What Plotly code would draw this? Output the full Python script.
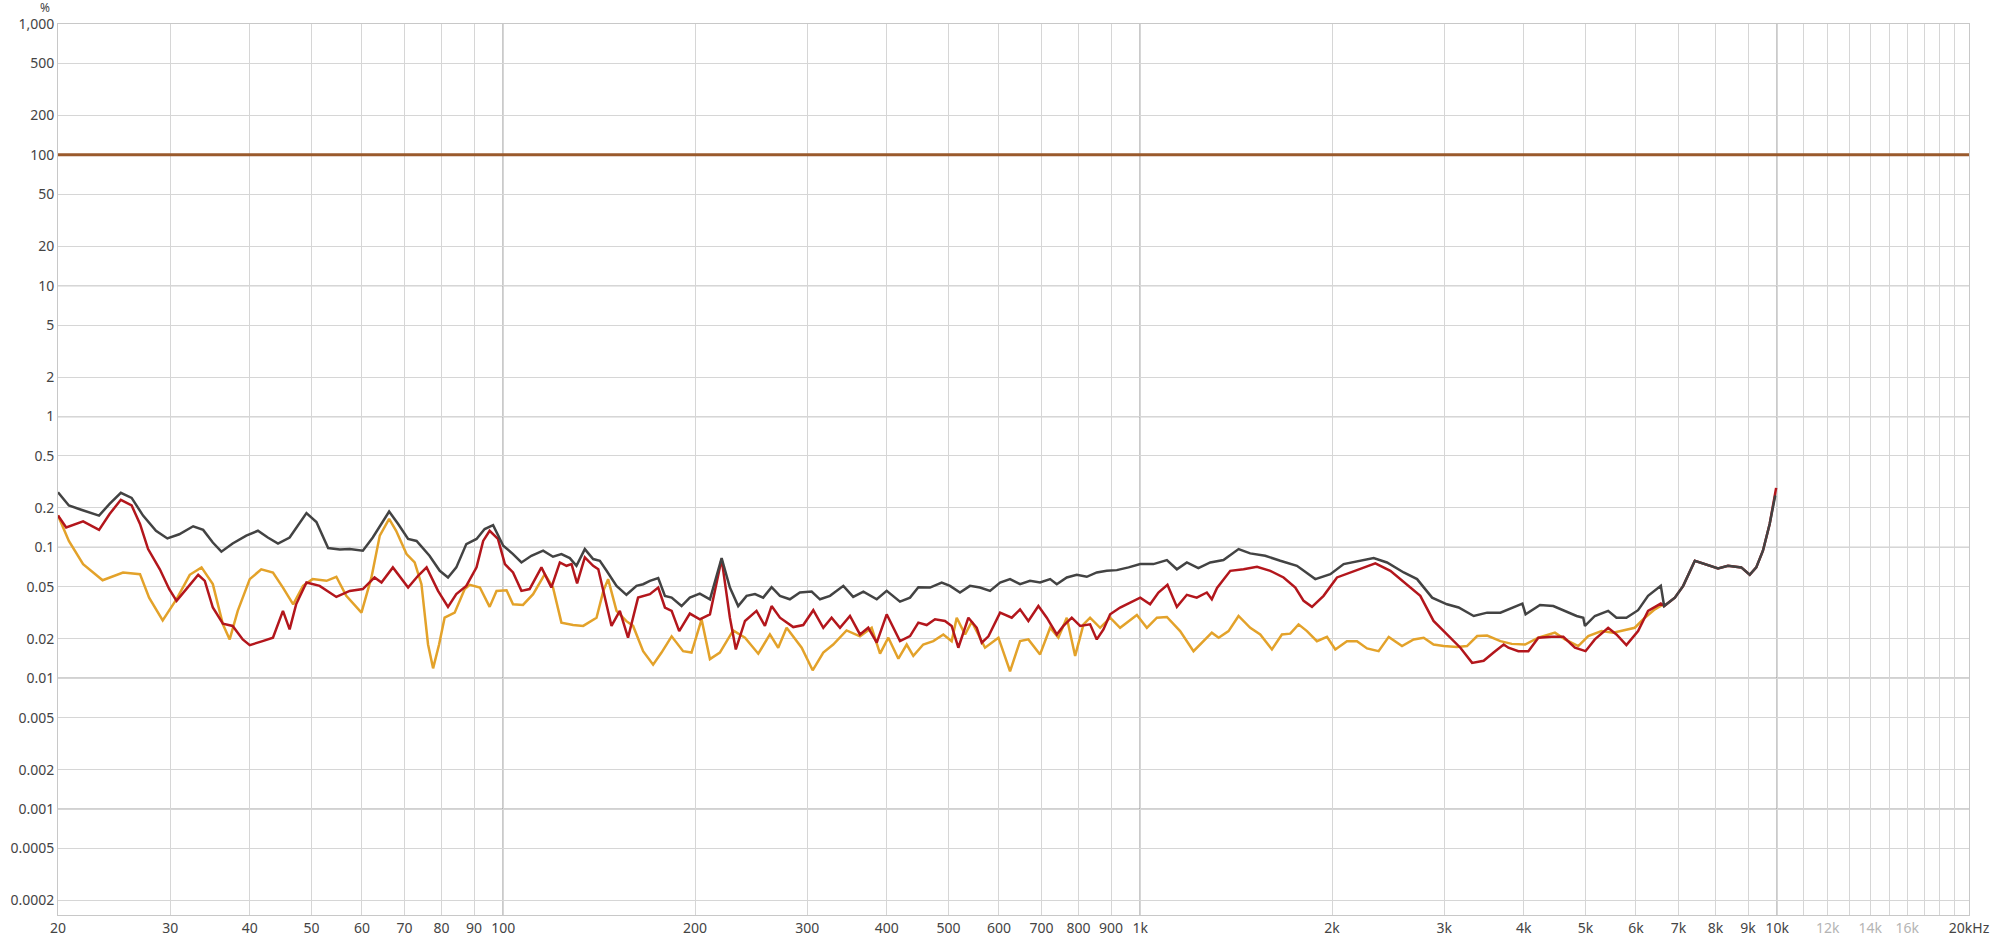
import math
import plotly.graph_objects as go

# ---------------- data (frequency in Hz, distortion in %) ----------------
fund_freq = [20, 20000]
fund_val = [100, 100]

thd_freq = [20, 20.8, 21.75, 23.2, 24.1, 25.1, 26.1, 27.2, 28.5, 29.7, 31.0, 32.6, 33.8, 35.0, 36.1, 37.6,
            39.5, 41.2, 42.7, 44.3, 46.2, 49.1, 50.9, 53.1, 55.4,
            57.4, 60.2, 62.4, 66.2, 68.4, 70.9, 73.1, 76.6, 79.5, 81.9, 84.4, 87.5, 90.8, 93.5, 96.4, 100,
            103.6, 106.8, 110.7, 115.5, 119.7, 123.4, 127.2, 130.3, 134.3, 138.4, 141.8, 145.3, 150.6, 156.1,
            161.9, 165.8, 169.9, 175.1, 179.4, 183.8, 190.5, 196.3, 203.5, 211.1, 220.2, 226.9, 233.8, 241.0,
            248.4, 255.9, 263.8, 271.9, 281.8, 292.2, 304.9, 314.2, 325.8, 341.9, 354.3, 367.6, 385.8, 399.9,
            419.6, 435.1, 448.4,
            467.7, 487.9, 502.8, 521.2, 540.4, 560.3, 581.0, 602.5, 624.6, 647.6, 671.4, 696.2, 722.0, 739.6,
            766.8, 795.0, 824.3, 854.6, 886.1, 918.7, 958.7, 1000, 1048.9, 1101.1, 1141.6, 1183.5, 1233.8, 1287.8,
            1351, 1427, 1488, 1571, 1659, 1762, 1883, 1988, 2086, 2216, 2325, 2440, 2592, 2720, 2872, 3031,
            3161, 3338, 3504, 3676,
            3830, 3980, 4027, 4242, 4451, 4643, 4842, 4960, 4990, 5172, 5427, 5592, 5797, 6047, 6269, 6565,
            6644, 6907, 7118, 7424, 7694, 8074, 8370, 8781, 9053, 9270, 9496, 9730, 9928]
thd_val = [0.264, 0.209, 0.194, 0.175, 0.215, 0.261, 0.239, 0.175, 0.134, 0.117, 0.126, 0.145, 0.136, 0.109, 0.0927, 0.107,
           0.123, 0.134, 0.119, 0.107, 0.119, 0.183, 0.156, 0.0988, 0.0965,
           0.097, 0.0943, 0.119, 0.188, 0.151, 0.116, 0.112, 0.0863, 0.0662, 0.0589, 0.0703, 0.106, 0.116, 0.138, 0.148, 0.103,
           0.0889, 0.0767, 0.0863, 0.0943, 0.0848, 0.0889, 0.0828, 0.0723, 0.097, 0.0814, 0.079, 0.0662, 0.0508, 0.0434,
           0.0508, 0.0523, 0.0555, 0.0582, 0.0426, 0.0413, 0.0356, 0.0413, 0.0443, 0.0401, 0.0828, 0.0493, 0.0356, 0.0426,
           0.0439, 0.0413, 0.0496, 0.0426, 0.0401, 0.0452, 0.0459, 0.0401, 0.0426, 0.0508, 0.0418, 0.0459, 0.0401, 0.0465,
           0.0385, 0.0413, 0.0496,
           0.0493, 0.0539, 0.0508, 0.0452, 0.0508, 0.0493, 0.0465, 0.0539, 0.0572, 0.0523, 0.0555, 0.0539, 0.0572, 0.0523,
           0.0589, 0.0617, 0.0596, 0.0643, 0.0662, 0.067, 0.0703, 0.0745, 0.0745, 0.080, 0.068, 0.0767, 0.0694, 0.0767,
           0.080, 0.097, 0.090, 0.0863, 0.079, 0.0723, 0.0572, 0.0624, 0.0745, 0.079, 0.0828, 0.0767, 0.0643, 0.0572, 0.0413, 0.0367,
           0.0347, 0.0299, 0.0317, 0.0317,
           0.0343, 0.0372, 0.0308, 0.0363, 0.0356, 0.0327, 0.0299, 0.029, 0.0251, 0.0299, 0.0327, 0.029, 0.029, 0.0331, 0.0426, 0.0508,
           0.0356, 0.0413, 0.0508, 0.079, 0.0745, 0.069, 0.0723, 0.0703, 0.0617, 0.0703, 0.0943, 0.151, 0.249]

h2_freq = [20, 20.6, 21.9, 23.2, 24.1, 25.1, 26.1, 26.9, 27.7, 28.9, 29.9, 30.7, 31.8, 33.2, 34.0, 35.0, 36.3, 37.6,
           39.0, 40.0, 41.9, 43.5, 45.1, 46.2, 47.3, 49.1, 51.5, 54.7,
           57.4, 60.2, 62.8, 64.4, 67.1, 70.9, 73.5, 75.8, 79.0, 81.9, 84.4, 87.5, 90.8, 93.0, 95.2, 98.1, 100.6,
           103.6, 106.8, 110.0, 114.8, 119.0, 122.7, 125.7, 128.0, 130.6, 134.3, 138.4, 141.0, 145.3, 147.9, 152.4, 157.0,
           162.8, 169.9, 175.1, 179.4, 183.8, 188.9, 196.3, 203.5, 211.1, 220.2, 226.9, 231.8, 239.6, 249.8, 257.5,
           263.8, 271.9, 285.3, 295.8, 306.7, 318.0, 327.7, 337.8, 350.2, 363.1, 374.1, 385.8, 399.9, 419.6, 435.1, 448.4,
           462.1, 476.2, 493.7, 505.8, 518.1, 537.3, 553.8, 563.9, 577.7, 602.5, 628.4, 647.6, 667.4, 692.0, 713.3,
           739.6, 757.5, 780.7, 804.7, 834.2, 854.6, 875.5, 896.9, 929.8, 964.3, 1000, 1036.3, 1068, 1103.4, 1141.6,
           1183.5, 1226.6, 1272.1, 1295.3,
           1320, 1384.6, 1452.6, 1525.2, 1600, 1678.8, 1751.6, 1805, 1860.3, 1940, 2036.4, 2136.9, 2242.3, 2339,
           2469.9, 2623, 2752, 2887, 3031, 3181, 3319, 3460, 3587, 3720,
           3784, 3923, 4067, 4217, 4424, 4615, 4813, 5001, 5172, 5427, 5592, 5797, 6047, 6269, 6565, 6644,
           6907, 7118, 7424, 7694, 8074, 8370, 8781, 9053, 9270, 9496, 9730, 9960]
h2_val = [0.175, 0.142, 0.158, 0.136, 0.180, 0.231, 0.209, 0.151, 0.097, 0.068, 0.0479, 0.039, 0.048, 0.0617, 0.0555, 0.0347, 0.0261, 0.0251,
          0.0198, 0.0179, 0.0192, 0.0204, 0.0327, 0.0236, 0.0367, 0.0539, 0.0508, 0.0418,
          0.0465, 0.048, 0.0589, 0.0539, 0.0703, 0.0493, 0.0607, 0.0703, 0.0465, 0.0351, 0.0439, 0.0508, 0.0703, 0.112, 0.134, 0.116, 0.0745,
          0.0643, 0.0465, 0.048, 0.0703, 0.0493, 0.0767, 0.0723, 0.0745, 0.053, 0.0838, 0.0723, 0.068, 0.0367, 0.0251, 0.0327, 0.0204,
          0.0413, 0.0439, 0.0493, 0.0347, 0.0327, 0.0229, 0.0312, 0.0282, 0.0308, 0.0814, 0.029, 0.0166, 0.0274, 0.0327, 0.0251,
          0.0356, 0.029, 0.0246, 0.0255, 0.0331, 0.0243, 0.029, 0.0243, 0.0299, 0.0216, 0.0243, 0.0187, 0.0308, 0.0192, 0.021, 0.0266,
          0.0255, 0.0282, 0.0274, 0.0251, 0.0171, 0.029, 0.0243, 0.0187, 0.0209, 0.0317, 0.029, 0.0336, 0.0274, 0.0356, 0.029,
          0.0216, 0.0251, 0.029, 0.0251, 0.0258, 0.0198, 0.0236, 0.0308, 0.0347, 0.0379, 0.0413, 0.0367, 0.0452, 0.0517, 0.0351,
          0.0434, 0.0413, 0.0452, 0.0401,
          0.049, 0.0662, 0.068, 0.0711, 0.0662, 0.0589, 0.0493, 0.039, 0.0351, 0.0426, 0.0589, 0.0643, 0.0703, 0.0754,
          0.0662, 0.0523, 0.0426, 0.0274, 0.0216, 0.0171, 0.0131, 0.0136, 0.0157, 0.0181,
          0.0171, 0.0161, 0.0161, 0.0204, 0.0207, 0.0207, 0.0171, 0.0161, 0.0198, 0.0243, 0.0216, 0.0179, 0.0229, 0.0327, 0.0372, 0.0356,
          0.0413, 0.0508, 0.079, 0.0745, 0.069, 0.0723, 0.0703, 0.0617, 0.0703, 0.0943, 0.151, 0.285]

h3_freq = [20, 20.8, 21.9, 23.5, 25.3, 26.9, 27.8, 29.2, 30.7, 32.2, 33.6, 35.0, 36.3, 37.2, 38.3, 40.0, 41.7, 43.5,
           45.1, 46.8, 48.5, 50.2, 52.8, 54.7,
           56.7, 59.9, 62.1, 64.0, 66.2, 67.9, 70.5, 72.6, 74.4, 76.2, 77.6, 79.3, 80.9, 83.9, 87.0, 88.6, 91.9, 95.2,
           97.6, 101.2, 103.6, 107.4, 111.4, 116.2, 119.7, 123.4, 128.7, 133.5, 140.1, 143.6, 146.1, 150.6, 156.1, 159.9,
           165.8, 171.9, 177.2, 183.8, 191.6, 197.5, 204.8, 211.1, 218.8, 229.6, 239.6, 251.4, 262.2, 270.2, 278.5,
           294.1, 306.0, 318.0, 329.6, 345.9, 363.1, 378.8, 390.4, 402.3, 417.2, 429.9, 440.3, 456.4,
           473.3, 490.8, 505.8, 515.1, 530.9, 543.9, 570.6, 598.9, 624.6, 647.6, 667.4, 696.2, 722.0, 743.8, 766.8,
           790.3, 814.5, 834.2, 865.0, 896.9, 929.8, 987.9, 1024.2, 1062, 1101.1, 1155.1, 1212.3, 1257, 1295.3,
           1327.6, 1376, 1426.6, 1488.3, 1543, 1609.6, 1668.7, 1719.7, 1772.3, 1827, 1894, 1964, 2024, 2111, 2189,
           2270, 2367, 2455, 2576, 2687, 2786, 2887, 2994, 3143, 3258, 3380, 3504, 3676,
           3830, 4019, 4217, 4477, 4643, 4871, 5050, 5299, 5527, 5766, 5975, 6197, 6425, 6620]
h3_val = [0.175, 0.112, 0.0745, 0.0561, 0.0643, 0.0624, 0.0413, 0.0277, 0.0402, 0.0617, 0.0703, 0.0524, 0.0258, 0.0198, 0.0327, 0.0572, 0.068, 0.0643,
          0.0493, 0.0367, 0.0508, 0.0572, 0.0555, 0.0596,
          0.0426, 0.0317, 0.0589, 0.123, 0.165, 0.134, 0.0889, 0.0767, 0.0523, 0.0181, 0.0119, 0.0181, 0.029, 0.0317, 0.048, 0.0517, 0.0493, 0.0351,
          0.0465, 0.047, 0.0367, 0.0363, 0.0439, 0.0624, 0.0493, 0.0266, 0.0255, 0.0251, 0.029, 0.0465, 0.0572, 0.0327, 0.0273, 0.0251,
          0.0161, 0.0127, 0.0157, 0.0209, 0.0161, 0.0157, 0.0282, 0.014, 0.0157, 0.0232, 0.0204, 0.0154, 0.0216, 0.0171, 0.0243,
          0.0171, 0.0115, 0.0157, 0.0181, 0.0232, 0.0209, 0.0243, 0.0154, 0.0204, 0.0141, 0.0181, 0.0148, 0.0181,
          0.0192, 0.0216, 0.0192, 0.029, 0.0216, 0.0271, 0.0171, 0.0204, 0.0113, 0.0192, 0.0198, 0.0152, 0.0243, 0.0204, 0.029,
          0.0148, 0.0258, 0.029, 0.0243, 0.029, 0.0243, 0.0304, 0.0243, 0.029, 0.0294, 0.0229, 0.0161, 0.0192, 0.0223,
          0.0204, 0.0229, 0.0299, 0.0243, 0.0216, 0.0166, 0.0216, 0.0219, 0.0258, 0.0229, 0.0192, 0.0207, 0.0166, 0.0192, 0.0192,
          0.0169, 0.0161, 0.0207, 0.0176, 0.0198, 0.0204, 0.0181, 0.0176, 0.0173, 0.0176, 0.021, 0.0212, 0.0192,
          0.0183, 0.0181, 0.0204, 0.0223, 0.0198, 0.0176, 0.021, 0.0229, 0.0223, 0.0232, 0.0243, 0.029, 0.0336, 0.0367]

x_tickvals = [20, 30, 40, 50, 60, 70, 80, 90, 100, 200, 300, 400, 500, 600, 700, 800, 900,
              1000, 2000, 3000, 4000, 5000, 6000, 7000, 8000, 9000, 10000,
              11000, 12000, 13000, 14000, 15000, 16000, 17000, 18000, 19000, 20000]
x_ticktext = ["20", "30", "40", "50", "60", "70", "80", "90", "100", "200", "300", "400", "500", "600", "700", "800", "900",
              "1k", "2k", "3k", "4k", "5k", "6k", "7k", "8k", "9k", "10k",
              "", "<span style='color:#b4b4b4'>12k</span>", "", "<span style='color:#b4b4b4'>14k</span>", "",
              "<span style='color:#b4b4b4'>16k</span>", "", "", "", "20kHz"]
y_tickvals = [1000, 500, 200, 100, 50, 20, 10, 5, 2, 1, 0.5, 0.2, 0.1, 0.05, 0.02, 0.01, 0.005, 0.002, 0.001, 0.0005, 0.0002]
y_ticktext = ["1,000", "500", "200", "100", "50", "20", "10", "5", "2", "1", "0.5", "0.2", "0.1", "0.05", "0.02", "0.01",
              "0.005", "0.002", "0.001", "0.0005", "0.0002"]
y_decades = [10, 1, 0.1, 0.01, 0.001]
x_decades = [100, 1000, 10000]

# ---------------- figure ----------------
fig = go.Figure()
fig.add_trace(go.Scatter(x=h3_freq, y=h3_val, mode="lines", line=dict(color="#e3a22a", width=2.5),
                         name="H3", showlegend=False))
fig.add_trace(go.Scatter(x=h2_freq, y=h2_val, mode="lines", line=dict(color="#b3161c", width=2.5),
                         name="H2", showlegend=False))
fig.add_trace(go.Scatter(x=thd_freq, y=thd_val, mode="lines", line=dict(color="#434343", width=2.5),
                         name="THD", showlegend=False))
fig.add_trace(go.Scatter(x=fund_freq, y=fund_val, mode="lines", line=dict(color="#9a5a2c", width=3),
                         name="Fundamental", showlegend=False))

shapes = []
for yv in y_decades:
    shapes.append(dict(type="line", xref="paper", x0=0, x1=1, yref="y", y0=yv, y1=yv,
                       line=dict(color="#a3a3a3", width=1.2), layer="below"))
for xv in x_decades:
    shapes.append(dict(type="line", yref="paper", y0=0, y1=1, xref="x", x0=xv, x1=xv,
                       line=dict(color="#6e6e6e", width=1.2), layer="below"))

font_family = "Noto Sans, Open Sans, DejaVu Sans, sans-serif"
fig.update_layout(
    width=2000, height=948,
    margin=dict(l=58, r=31, t=24, b=33, autoexpand=False),
    paper_bgcolor="white", plot_bgcolor="white",
    font=dict(family=font_family, size=14, color="#444444"),
    shapes=shapes,
    annotations=[dict(text="%", xref="paper", yref="paper", x=0, y=1.0, xanchor="right", yanchor="middle",
                      xshift=-6, yshift=17, showarrow=False, font=dict(size=12, color="#444444"))],
)
fig.update_xaxes(type="log", range=[math.log10(20), math.log10(20000)], automargin=False,
                 tickmode="array", tickvals=x_tickvals, ticktext=x_ticktext,
                 showgrid=True, gridcolor="#d6d6d6", gridwidth=1, zeroline=False,
                 showline=True, linecolor="#c8c8c8", linewidth=1, mirror=True, ticks="",
                 tickfont=dict(size=14, color="#444444"))
fig.update_yaxes(type="log", range=[math.log10(0.000155), 3], automargin=False,
                 tickmode="array", tickvals=y_tickvals, ticktext=y_ticktext,
                 showgrid=True, gridcolor="#d6d6d6", gridwidth=1, zeroline=False,
                 showline=True, linecolor="#c8c8c8", linewidth=1, mirror=True, ticks="",
                 tickfont=dict(size=14, color="#444444"))

# remove the default page margin so the 2000x948 figure fills the window exactly
fig.write_html("out.html", config={"displayModeBar": False},
               post_script="document.body.style.margin='0';document.body.style.overflow='hidden';")
